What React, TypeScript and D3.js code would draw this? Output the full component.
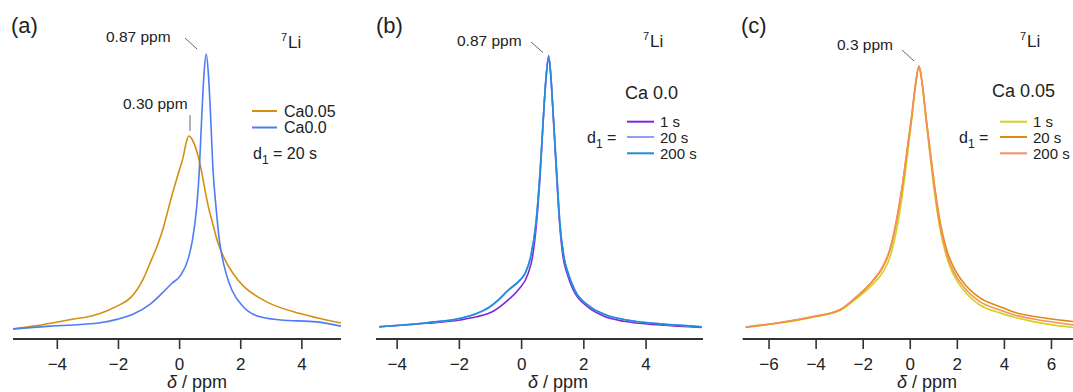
import React from "react";
import * as d3 from "d3";

type Pt = [number, number];

// ---------- Panel (a): 7Li, d1 = 20 s ----------
const aCa005: Pt[] = [
  [-5.45, 2.5], [-4.78, 3.5], [-3.69, 5.6], [-2.6, 8.0], [-2.05, 10.6], [-1.6, 13.6],
  [-1.2, 20.0], [-0.96, 26.0], [-0.75, 31.5], [-0.53, 38.5], [-0.37, 45.0], [-0.2, 51.8],
  [-0.04, 57.7], [0.12, 63.6], [0.21, 68.3], [0.3, 70.9], [0.42, 69.5], [0.61, 63.6],
  [0.73, 57.7], [0.83, 51.8], [0.94, 45.9], [1.08, 40.0], [1.24, 33.5], [1.45, 27.8],
  [1.76, 22.0], [2.1, 17.6], [2.6, 13.6], [3.0, 11.3], [3.94, 8.0], [4.6, 6.2], [5.28, 4.6],
];
const aCa00: Pt[] = [
  [-5.45, 2.5], [-4.23, 3.5], [-2.6, 4.7], [-2.05, 5.9], [-1.51, 7.8], [-0.96, 11.3],
  [-0.58, 15.1], [-0.25, 18.7], [0.02, 21.3], [0.29, 27.7], [0.42, 34.0], [0.56, 45.9],
  [0.64, 57.7], [0.69, 69.5], [0.74, 81.3], [0.8, 93.2], [0.87, 100], [0.94, 93.2],
  [1.0, 81.3], [1.1, 57.7], [1.19, 45.9], [1.3, 34.0], [1.38, 28.7], [1.52, 22.2],
  [1.71, 16.3], [2.08, 10.4], [2.63, 6.8], [3.3, 5.7], [4.48, 5.0], [5.28, 3.5],
];

// ---------- Panel (b): Ca 0.0 ----------
const b1s: Pt[] = [
  [-4.58, 3.3], [-3.05, 4.5], [-1.98, 5.7], [-1.45, 6.8], [-0.91, 8.8], [-0.43, 12.8],
  [-0.11, 16.3], [0.21, 22.2], [0.35, 28.1], [0.48, 40.0], [0.6, 57.7], [0.72, 81.3],
  [0.79, 92.5], [0.87, 99.4], [0.94, 92.5], [1.0, 81.3], [1.12, 57.7], [1.22, 40.0],
  [1.33, 28.1], [1.46, 22.2], [1.66, 16.3], [2.12, 10.4], [2.65, 7.0], [3.3, 5.2],
  [4.45, 3.9], [5.79, 3.0],
];
const b20s: Pt[] = [
  [-4.58, 3.3], [-3.05, 4.7], [-1.98, 6.2], [-1.45, 7.9], [-1.02, 10.2], [-0.75, 12.6],
  [-0.43, 16.1], [-0.05, 19.7], [0.11, 22.0], [0.29, 28.0], [0.46, 40.0], [0.59, 57.7],
  [0.72, 81.3], [0.79, 92.0], [0.87, 98.8], [0.94, 92.0], [1.0, 81.3], [1.13, 57.7],
  [1.23, 40.0], [1.36, 28.1], [1.5, 22.2], [1.71, 16.3], [2.2, 10.4], [2.73, 7.4],
  [3.38, 5.7], [4.45, 4.3], [5.79, 3.3],
];
const b200s: Pt[] = [
  [-4.58, 3.3], [-3.05, 4.7], [-1.98, 6.3], [-1.45, 8.0], [-1.02, 10.4], [-0.75, 12.8],
  [-0.43, 16.3], [-0.05, 19.9], [0.11, 22.2], [0.29, 28.1], [0.46, 40.0], [0.59, 57.7],
  [0.72, 81.3], [0.79, 92.0], [0.87, 98.6], [0.94, 92.0], [1.0, 81.3], [1.13, 57.7],
  [1.23, 40.0], [1.36, 28.1], [1.5, 22.2], [1.71, 16.3], [2.2, 10.4], [2.73, 7.4],
  [3.38, 5.7], [4.45, 4.3], [5.79, 3.3],
];

// ---------- Panel (c): Ca 0.05 ----------
const c1s: Pt[] = [
  [-6.99, 3.1], [-5.55, 4.6], [-4.13, 6.7], [-3.0, 9.0], [-2.28, 13.3], [-1.63, 18.0],
  [-1.15, 22.8], [-0.86, 28.0], [-0.55, 39.0], [-0.32, 51.0], [-0.13, 63.5], [0.06, 76.5],
  [0.23, 89.0], [0.37, 95.5], [0.51, 88.8], [0.67, 76.5], [0.84, 64.0], [1.02, 51.5],
  [1.23, 39.5], [1.55, 27.8], [1.83, 21.8], [2.28, 16.1], [2.96, 11.0], [3.81, 8.2],
  [4.36, 6.8], [5.77, 4.3], [6.95, 3.0],
];
const c20s: Pt[] = [
  [-6.99, 3.1], [-5.55, 4.7], [-4.13, 6.8], [-3.0, 9.2], [-2.28, 13.9], [-1.63, 19.1],
  [-1.15, 24.6], [-0.86, 30.5], [-0.55, 42.3], [-0.32, 54.1], [-0.13, 66.0], [0.06, 77.8],
  [0.23, 89.6], [0.37, 95.7], [0.51, 89.6], [0.67, 77.8], [0.84, 66.0], [1.02, 54.1],
  [1.23, 42.3], [1.55, 30.5], [1.83, 24.6], [2.28, 18.7], [2.96, 13.5], [3.81, 10.4],
  [4.36, 8.6], [5.77, 6.3], [6.95, 5.1],
];
const c200s: Pt[] = [
  [-6.99, 3.2], [-5.55, 4.8], [-4.13, 6.9], [-3.0, 9.3], [-2.28, 14.0], [-1.63, 19.3],
  [-1.15, 25.0], [-0.86, 31.0], [-0.55, 42.8], [-0.32, 54.5], [-0.13, 66.3], [0.06, 78.0],
  [0.23, 89.8], [0.37, 95.7], [0.51, 89.4], [0.67, 77.3], [0.84, 65.2], [1.02, 53.0],
  [1.23, 40.8], [1.55, 29.0], [1.83, 23.0], [2.28, 17.3], [2.96, 12.2], [3.81, 9.2],
  [4.36, 7.6], [5.77, 5.3], [6.95, 3.9],
];

const ticksAB = [-4, -2, 0, 2, 4];
const ticksC = [-6, -4, -2, 0, 2, 4, 6];
const legendA = ["Ca0.05", "Ca0.0"];
const legendBC = ["1 s", "20 s", "200 s"];

const FONT = "'Liberation Sans', Arial, Helvetica, sans-serif";
const AXIS_Y = 339;

interface Series { data: Pt[]; color: string; width?: number }

function Panel(props: {
  domain: [number, number];
  range: [number, number];
  ticks: number[];
  series: Series[];
  titleX: number;
}) {
  const { domain, range, ticks, series, titleX } = props;
  const x = d3.scaleLinear().domain(domain).range(range);
  const y = d3.scaleLinear().domain([0, 100]).range([336, 54]);
  const line = d3
    .line<Pt>()
    .x((d) => x(d[0]))
    .y((d) => y(d[1]))
    .curve(d3.curveMonotoneX);
  return (
    <g>
      {series.map((s, i) => (
        <path key={i} d={line(s.data) || ""} fill="none" stroke={s.color}
          strokeWidth={s.width ?? 1.6} strokeLinejoin="round" />
      ))}
      <line x1={range[0]} x2={range[1]} y1={AXIS_Y} y2={AXIS_Y} stroke="#333" strokeWidth={2} />
      {ticks.map((t) => (
        <g key={t}>
          <line x1={x(t)} x2={x(t)} y1={AXIS_Y} y2={AXIS_Y + 10} stroke="#333" strokeWidth={1.6} />
          <text x={x(t)} y={370} textAnchor="middle" fontSize={17} fontFamily={FONT} fill="#222">
            {t < 0 ? "\u2212" + Math.abs(t) : String(t)}
          </text>
        </g>
      ))}
      <text x={titleX} y={388} textAnchor="middle" fontSize={18} fontFamily={FONT} fill="#222">
        <tspan fontStyle="italic">δ</tspan> / ppm
      </text>
    </g>
  );
}

function Li(props: { x: number; y: number }) {
  return (
    <g fontFamily={FONT} fill="#222">
      <text x={props.x} y={props.y - 7} fontSize={11}>7</text>
      <text x={props.x + 7} y={props.y} fontSize={17}>Li</text>
    </g>
  );
}

function D1(props: { x: number; y: number; rest: string }) {
  return (
    <text x={props.x} y={props.y} fontSize={16} fontFamily={FONT} fill="#222">
      d<tspan fontSize={12} dy={5}>1</tspan>
      <tspan dy={-5}>{props.rest}</tspan>
    </text>
  );
}

function Legend3(props: { x: number; colors: string[] }) {
  const ys = [121.7, 137, 153.3];
  return (
    <g>
      {legendBC.map((lab, i) => (
        <g key={lab}>
          <line x1={props.x} x2={props.x + 27} y1={ys[i]} y2={ys[i]} stroke={props.colors[i]} strokeWidth={2} />
          <text x={props.x + 33} y={ys[i] + 5.5} fontSize={15} fontFamily={FONT} fill="#222">{lab}</text>
        </g>
      ))}
    </g>
  );
}

export default function App() {
  const colA = ["#d4900f", "#4d7cf6"];
  const colB = ["#7a2ad8", "#8aa2f5", "#1d8cd9"];
  const colC = ["#d2d320", "#dd8a12", "#f7905c"];
  const ann = 15.5;
  return (
    <svg width={1073} height={392} style={{ position: "absolute", left: 0, top: 0, background: "#fff" }}>
      <rect width={1073} height={392} fill="#fff" />
      {/* Panel (a) */}
      <Panel domain={[-5.45, 5.28]} range={[13, 341]} ticks={ticksAB} titleX={197}
        series={[{ data: aCa005, color: colA[0] }, { data: aCa00, color: colA[1] }]} />
      <text x={11} y={33} fontSize={22} fontFamily={FONT} fill="#222">(a)</text>
      <text x={106} y={42} fontSize={ann} fontFamily={FONT} fill="#222">0.87 ppm</text>
      <line x1={185} y1={38} x2={197} y2={49} stroke="#666" strokeWidth={1} />
      <text x={123} y={109} fontSize={ann} fontFamily={FONT} fill="#222">0.30 ppm</text>
      <line x1={190} y1={115} x2={190} y2={131} stroke="#666" strokeWidth={1} />
      <Li x={281} y={48} />
      {legendA.map((lab, i) => (
        <g key={lab}>
          <line x1={252} x2={277} y1={111 + i * 16.5} y2={111 + i * 16.5} stroke={colA[i]} strokeWidth={2} />
          <text x={284} y={116.5 + i * 16.5} fontSize={16} fontFamily={FONT} fill="#222">{lab}</text>
        </g>
      ))}
      <D1 x={253} y={159} rest=" = 20 s" />

      {/* Panel (b) */}
      <Panel domain={[-4.68, 5.83]} range={[376, 703]} ticks={ticksAB} titleX={558}
        series={[{ data: b1s, color: colB[0] }, { data: b20s, color: colB[1] }, { data: b200s, color: colB[2] }]} />
      <text x={376} y={33} fontSize={22} fontFamily={FONT} fill="#222">(b)</text>
      <text x={457} y={46} fontSize={ann} fontFamily={FONT} fill="#222">0.87 ppm</text>
      <line x1={531} y1={42} x2={543} y2={52.5} stroke="#666" strokeWidth={1} />
      <Li x={643} y={47} />
      <text x={625} y={99} fontSize={18} fontFamily={FONT} fill="#222">Ca 0.0</text>
      <D1 x={587} y={143} rest=" =" />
      <Legend3 x={627} colors={colB} />

      {/* Panel (c) */}
      <Panel domain={[-7.12, 7.0]} range={[742.7, 1075]} ticks={ticksC} titleX={927}
        series={[{ data: c1s, color: colC[0] }, { data: c20s, color: colC[1] }, { data: c200s, color: colC[2] }]} />
      <text x={741} y={33} fontSize={22} fontFamily={FONT} fill="#222">(c)</text>
      <text x={837} y={50} fontSize={ann} fontFamily={FONT} fill="#222">0.3 ppm</text>
      <line x1={902} y1={50} x2={914} y2={61} stroke="#666" strokeWidth={1} />
      <Li x={1020} y={47} />
      <text x={992} y={97} fontSize={18} fontFamily={FONT} fill="#222">Ca 0.05</text>
      <D1 x={959} y={143} rest=" =" />
      <Legend3 x={1000} colors={colC} />
    </svg>
  );
}
